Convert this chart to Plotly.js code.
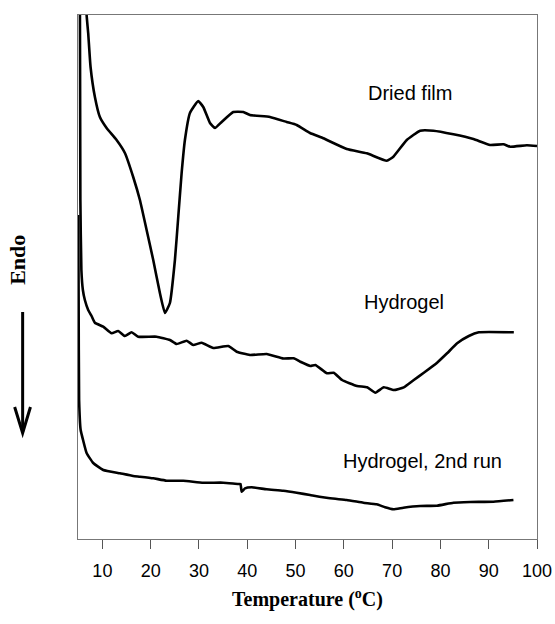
<!DOCTYPE html>
<html>
<head>
<meta charset="utf-8">
<script src="https://cdn.plot.ly/plotly-3.0.1.min.js"></script>
<style>html,body{margin:0;padding:0;background:#fff;}#chart{width:555px;height:624px;}</style>
</head>
<body>
<div id="chart"></div>
<script>
// Temperature (°C) and heat-flow signal (arbitrary units, endo down)
const driedT = [6.55, 6.73, 7.06, 7.55, 8.45, 9.48, 10.87, 12.94, 14.66, 16.38, 17.77, 19.16, 20.53, 21.91, 22.95, 23.98, 25.02, 25.71, 26.41, 27.09, 28.13, 29.85, 30.89, 32.28, 33.31, 34.70, 37.10, 39.18, 40.56, 44.71, 48.17, 50.24, 53.0, 55.75, 60.60, 64.75, 68.89, 70.26, 73.03, 75.79, 78.55, 82.69, 86.83, 90.29, 93.05, 94.44, 97.90, 100.0];
const driedY = [55.0, 52.4, 50.6, 47.2, 44.2, 42.2, 41.1, 39.9, 38.6, 36.2, 33.9, 30.9, 27.9, 24.6, 22.6, 23.6, 27.9, 32.2, 36.6, 39.9, 42.6, 43.8, 43.2, 41.6, 41.1, 41.7, 42.7, 42.7, 42.4, 42.2, 41.7, 41.4, 40.6, 40.07, 39.0, 38.57, 37.83, 38.23, 39.9, 40.83, 40.83, 40.47, 40.0, 39.4, 39.47, 39.23, 39.37, 39.3];

const hydroT = [5.34, 5.44, 5.65, 5.96, 6.37, 7.06, 7.76, 8.45, 10.17, 11.91, 13.27, 14.66, 16.05, 17.42, 21.23, 23.99, 25.38, 27.45, 28.81, 30.56, 32.96, 36.07, 37.81, 40.56, 44.02, 47.5, 49.62, 50.99, 53.06, 54.09, 56.52, 57.91, 59.63, 62.74, 64.81, 66.53, 68.27, 70.34, 72.41, 74.49, 76.56, 79.31, 81.38, 83.46, 85.88, 87.95, 95.2];
const hydroY = [55.0, 33.9, 26.9, 24.9, 23.9, 22.9, 22.3, 21.63, 21.23, 20.57, 20.8, 20.3, 20.67, 20.23, 20.23, 19.9, 19.5, 19.83, 19.4, 19.63, 19.1, 19.3, 18.73, 18.4, 18.5, 18.05, 18.07, 17.73, 17.3, 17.4, 16.57, 16.63, 15.9, 15.3, 15.17, 14.63, 15.17, 14.9, 15.17, 15.9, 16.63, 17.63, 18.57, 19.57, 20.3, 20.67, 20.67];

const run2T = [5.0, 5.08, 5.18, 5.5, 6.0, 6.73, 8.1, 10.17, 13.63, 16.38, 17.77, 20.53, 23.30, 26.74, 30.89, 35.03, 38.14, 38.6, 38.84, 39.53, 40.92, 44.02, 47.46, 50.24, 53.0, 57.14, 60.6, 64.04, 66.82, 68.54, 70.26, 72.33, 75.79, 79.25, 82.69, 86.15, 90.98, 95.12];
const run2Y = [32.4, 23.9, 13.9, 10.9, 9.9, 8.6, 7.6, 6.9, 6.57, 6.3, 6.23, 6.07, 5.83, 5.83, 5.63, 5.63, 5.5, 5.5, 4.73, 5.07, 5.17, 4.97, 4.83, 4.63, 4.4, 4.07, 3.9, 3.63, 3.47, 3.17, 2.97, 3.13, 3.3, 3.33, 3.63, 3.7, 3.73, 3.9];

const tickVals = [10, 20, 30, 40, 50, 60, 70, 80, 90, 100];
const tickText = ['10', '20', '30', '40', '50', '60', '70', '80', '90', '100'];
const curveNames = ['Dried film', 'Hydrogel', 'Hydrogel, 2nd run'];
const labelT = [73.6, 72.5, 76.2];
const labelY = [44.65, 23.75, 7.85];

const lineStyle = {color: '#000', width: 2.6, shape: 'spline', smoothing: 0.4};
const traces = [
  {x: driedT, y: driedY, name: curveNames[0]},
  {x: hydroT, y: hydroY, name: curveNames[1]},
  {x: run2T, y: run2Y, name: curveNames[2]}
].map(t => Object.assign(t, {type: 'scatter', mode: 'lines', line: lineStyle, hoverinfo: 'skip'}));

const ann = curveNames.map((n, i) => ({
  x: labelT[i], y: labelY[i], xref: 'x', yref: 'y', text: n, showarrow: false,
  font: {family: 'Liberation Sans, Arial, sans-serif', size: 20, color: '#000'},
  xanchor: 'center', yanchor: 'middle'
}));
ann.push({
  x: -0.1315, y: 0.532, xref: 'paper', yref: 'paper', text: '<b>Endo</b>', textangle: -90,
  showarrow: false, font: {family: 'Liberation Serif, Times New Roman, serif', size: 22, color: '#000'},
  xanchor: 'center', yanchor: 'middle'
});

const layout = {
  width: 555, height: 624,
  margin: {l: 78, r: 18, t: 15, b: 85},
  paper_bgcolor: '#fff', plot_bgcolor: '#fff',
  showlegend: false,
  xaxis: {
    range: [4.95, 100], tickvals: tickVals, ticktext: tickText,
    ticks: 'outside', ticklen: 9, tickwidth: 1, tickcolor: '#555',
    ticklabelstandoff: 6,
    showline: true, mirror: true, linecolor: '#777', linewidth: 1,
    showgrid: false, zeroline: false,
    tickfont: {family: 'Liberation Sans, Arial, sans-serif', size: 18, color: '#000'},
    title: {text: '<b>Temperature (<sup>o</sup>C)</b>', font: {family: 'Liberation Serif, Times New Roman, serif', size: 20, color: '#000'}, standoff: 12}
  },
  yaxis: {
    range: [0, 52.4], showticklabels: false, ticks: '',
    showline: true, mirror: true, linecolor: '#777', linewidth: 1,
    showgrid: false, zeroline: false
  },
  annotations: ann,
  shapes: [
    {type: 'line', xref: 'paper', yref: 'paper', x0: -0.1206, x1: -0.1206, y0: 0.4332, y1: 0.205, line: {color: '#000', width: 3}},
    {type: 'path', xref: 'paper', yref: 'paper', path: 'M -0.138 0.2519 L -0.1206 0.2023 L -0.1036 0.2519', line: {color: '#000', width: 3}}
  ]
};

Plotly.newPlot('chart', traces, layout, {staticPlot: true, displayModeBar: false});
</script>
</body>
</html>
